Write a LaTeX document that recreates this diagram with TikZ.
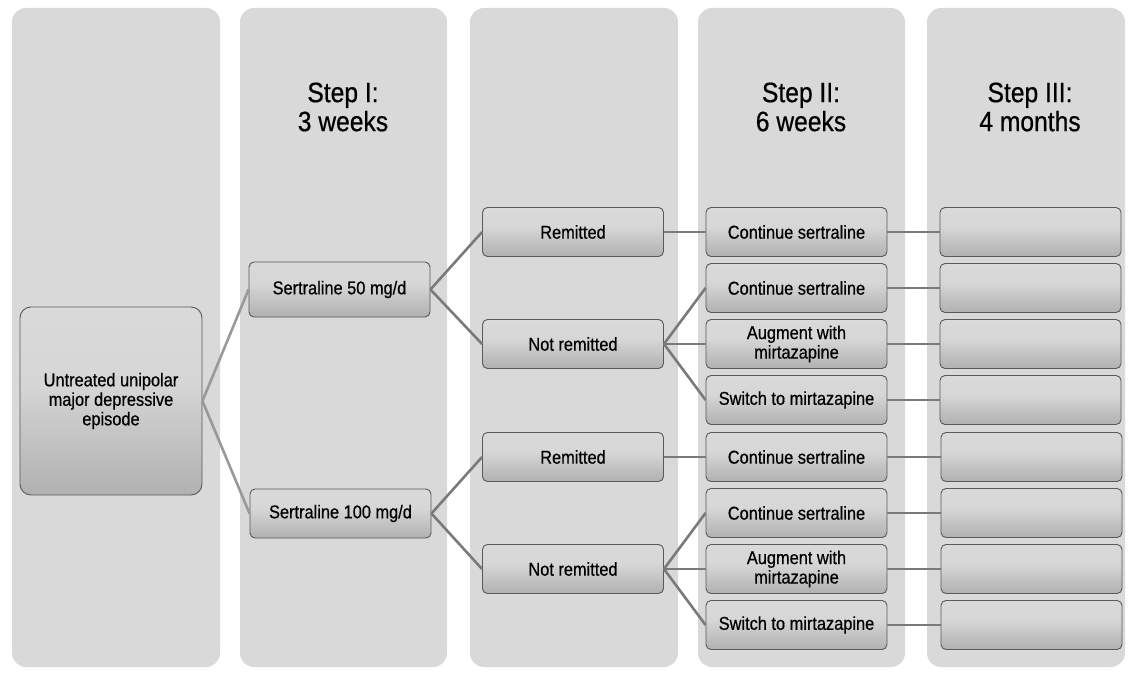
\documentclass[tikz,border=0pt]{standalone}
\usepackage{fontspec}
\setmainfont{Liberation Sans}[FakeStretch=0.88,FakeBold=0.6]
\pgfdeclareverticalshading{boxsh}{100bp}{color(0bp)=(black!42); color(35bp)=(black!26); color(55bp)=(black!16); color(100bp)=(black!13)}
\tikzset{
  col/.style={fill=black!15, draw=none, rounded corners=14pt},
  box/.style={draw=black!65, line width=0.9pt, rounded corners=5pt, shading=boxsh,
    minimum width=181pt, minimum height=49pt, inner sep=2pt, align=center,
    font=\fontsize{18.6}{19.5}\selectfont, text=black},
  bigbox/.style={box, rounded corners=11pt, minimum width=182pt, minimum height=188pt},
  hdr/.style={align=center, font=\fontsize{28}{29}\selectfont, text=black},
  link/.style={draw=black!52, line width=2.6pt},
}
\begin{document}
\begin{tikzpicture}[x=1pt,y=-1pt]
\useasboundingbox (0,0) rectangle (1133,674);
\fill[white] (0,0) rectangle (1133,674);
% columns
\path[col] (12,8) rectangle (220,667);
\path[col] (240,8) rectangle (447,667);
\path[col] (470,8) rectangle (678,667);
\path[col] (698,8) rectangle (905,667);
\path[col] (927,8) rectangle (1125,667);
% headers
\node[hdr] (h1) at (343,107) {Step I:\\3 weeks};
\node[hdr] (h2) at (801,107) {Step II:\\6 weeks};
\node[hdr] (h3) at (1030,107) {Step III:\\4 months};
% nodes
\node[bigbox] (un) at (111,401) {Untreated unipolar\\major depressive\\episode};
\node[box, minimum height=55pt] (s50) at (339.5,289.5) {Sertraline 50 mg/d};
\node[box] (s100) at (340.5,513.5) {Sertraline 100 mg/d};
\node[box] (r1) at (573,232) {Remitted};
\node[box] (n1) at (573,344) {Not remitted};
\node[box] (r2) at (573,457) {Remitted};
\node[box] (n2) at (573,569) {Not remitted};
\node[box] (c1) at (796.5,232) {Continue sertraline};
\node[box] (c2) at (796.5,288) {Continue sertraline};
\node[box] (a1) at (796.5,344) {Augment with\\mirtazapine};
\node[box] (w1) at (796.5,400) {Switch to mirtazapine};
\node[box] (c3) at (796.5,457) {Continue sertraline};
\node[box] (c4) at (796.5,513) {Continue sertraline};
\node[box] (a2) at (796.5,569) {Augment with\\mirtazapine};
\node[box] (w2) at (796.5,625) {Switch to mirtazapine};
\node[box] (e1) at (1030.5,232) {};
\node[box] (e2) at (1030.5,288) {};
\node[box] (e3) at (1030.5,344) {};
\node[box] (e4) at (1030.5,400) {};
\node[box] (e5) at (1031.5,457) {};
\node[box] (e6) at (1031.5,513) {};
\node[box] (e7) at (1031.5,569) {};
\node[box] (e8) at (1031.5,625) {};
% connectors
\draw[link, draw=black!40] (un.east) -- (s50.west);
\draw[link, draw=black!40] (un.east) -- (s100.west);
\draw[link] (s50.east) -- (r1.west);
\draw[link] (s50.east) -- (n1.west);
\draw[link] (s100.east) -- (r2.west);
\draw[link] (s100.east) -- (n2.west);
\draw[link] (r1.east) -- (c1.west);
\draw[link] (n1.east) -- (c2.west);
\draw[link] (n1.east) -- (a1.west);
\draw[link] (n1.east) -- (w1.west);
\draw[link] (r2.east) -- (c3.west);
\draw[link] (n2.east) -- (c4.west);
\draw[link] (n2.east) -- (a2.west);
\draw[link] (n2.east) -- (w2.west);
\draw[link] (c1.east) -- (e1.west);
\draw[link] (c2.east) -- (e2.west);
\draw[link] (a1.east) -- (e3.west);
\draw[link] (w1.east) -- (e4.west);
\draw[link] (c3.east) -- (e5.west);
\draw[link] (c4.east) -- (e6.west);
\draw[link] (a2.east) -- (e7.west);
\draw[link] (w2.east) -- (e8.west);
\end{tikzpicture}
\end{document}
